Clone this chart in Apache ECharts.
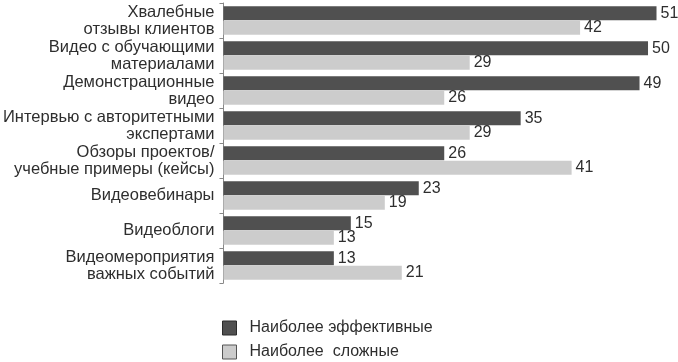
<!DOCTYPE html>
<html>
<head>
<meta charset="utf-8">
<script src="https://cdn.jsdelivr.net/npm/echarts@6/dist/echarts.min.js"></script>
<style>html,body{margin:0;padding:0;background:#fff}#c{width:678px;height:362px}</style>
</head>
<body>
<div id="c"></div>
<script>
var categories = [
  "Хвалебные\nотзывы клиентов",
  "Видео с обучающими\nматериалами",
  "Демонстрационные\nвидео",
  "Интервью с авторитетными\nэкспертами",
  "Обзоры проектов/\nучебные примеры (кейсы)",
  "Видеовебинары",
  "Видеоблоги",
  "Видеомероприятия\nважных событий"
];
var effective = [51, 50, 49, 35, 26, 23, 15, 13];
var complex = [42, 29, 26, 29, 41, 19, 13, 21];
var seriesNames = ["Наиболее эффективные", "Наиболее  сложные"];

var FONT = '"Liberation Sans", Arial, sans-serif';
var chart = echarts.init(document.getElementById('c'));
chart.setOption({
  animation: false,
  textStyle: {fontFamily: FONT},
  grid: {left: 220, right: 13, top: 3, bottom: 79, containLabel: false},
  xAxis: {
    type: 'value', min: 0, max: 52, show: false
  },
  yAxis: {
    type: 'category', data: categories, inverse: true,
    axisLine: {show: true, lineStyle: {color: '#888', width: 1}},
    axisTick: {show: true, length: 4, lineStyle: {color: '#888'}},
    axisLabel: {color: '#2e2e2e', fontSize: 16.5, lineHeight: 17, margin: 9, fontFamily: FONT}
  },
  legend: {
    orient: 'vertical', left: 222, top: 319, padding: 0, width: 300, height: 60,
    itemWidth: 14, itemHeight: 14, itemGap: 6,
    icon: 'rect',
    textStyle: {color: '#2e2e2e', fontSize: 16, lineHeight: 18, fontFamily: FONT, padding: [0,0,0,8]},
    data: [
      {name: seriesNames[0], itemStyle: {color: '#505050', borderColor: '#2a2a2a', borderWidth: 1}},
      {name: seriesNames[1], itemStyle: {color: '#cccccc', borderColor: '#555', borderWidth: 1}}
    ]
  },
  series: [
    {
      name: seriesNames[0], type: 'bar', data: effective,
      barCategoryGap: '18%', barGap: '4%',
      itemStyle: {color: '#505050'},
      label: {show: true, position: 'right', distance: 4, color: '#2e2e2e', fontSize: 16, fontFamily: FONT}
    },
    {
      name: seriesNames[1], type: 'bar', data: complex,
      barCategoryGap: '18%', barGap: '4%',
      itemStyle: {color: '#cccccc'},
      label: {show: true, position: 'right', distance: 4, color: '#2e2e2e', fontSize: 16, fontFamily: FONT}
    }
  ]
});
</script>
</body>
</html>
